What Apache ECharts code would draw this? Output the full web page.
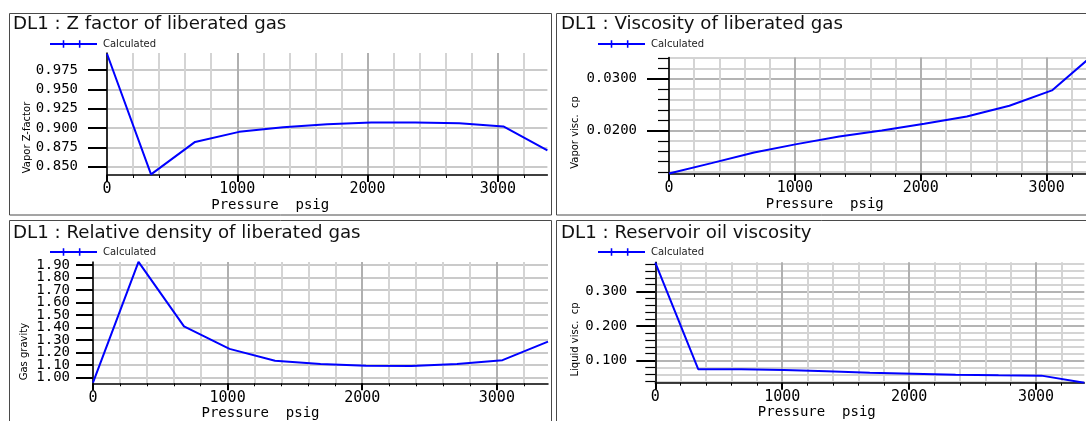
<!DOCTYPE html>
<html><head><meta charset="utf-8">
<script src="https://cdn.jsdelivr.net/npm/echarts@6/dist/echarts.min.js"></script>
<style>html,body{margin:0;padding:0;background:#fff}#c{width:1086px;height:421px}</style>
</head><body><div id="c"></div>
<script>
// ---------- data ----------
const pressure = [0, 338, 676, 1014, 1352, 1690, 2028, 2366, 2704, 3042, 3380];
const zFactor = [0.996, 0.840, 0.882, 0.895, 0.901, 0.905, 0.907, 0.907, 0.906, 0.902, 0.871];
const gasViscosity = [0.0117, 0.0137, 0.01575, 0.01737, 0.01884, 0.0200, 0.0213, 0.0227, 0.02478, 0.02774, 0.0348];
const gasGravity = [0.96, 1.925, 1.41, 1.23, 1.135, 1.11, 1.095, 1.093, 1.11, 1.14, 1.288];
const oilViscosity = [0.384, 0.075, 0.075, 0.073, 0.0693, 0.0652, 0.0623, 0.0594, 0.0577, 0.0565, 0.036];

const titles = ['DL1 : Z factor of liberated gas', 'DL1 : Viscosity of liberated gas',
                'DL1 : Relative density of liberated gas', 'DL1 : Reservoir oil viscosity'];
const yNames = ['Vapor Z-factor', 'Vapor visc.  cp', 'Gas gravity', 'Liquid visc.  cp'];
const xName = 'Pressure  psig';
const seriesName = 'Calculated';

const xMajorTicks = [0, 1000, 2000, 3000];
const xMinorTicks = [200, 400, 600, 800, 1200, 1400, 1600, 1800, 2200, 2400, 2600, 2800, 3200];
const zMajorTicks = [0.850, 0.875, 0.900, 0.925, 0.950, 0.975];
const gasViscMajorTicks = [0.0200, 0.0300];
const gasViscMinorTicks = [0.012, 0.014, 0.016, 0.018, 0.022, 0.024, 0.026, 0.028, 0.032, 0.034];
const gravityMajorTicks = [1.00, 1.10, 1.20, 1.30, 1.40, 1.50, 1.60, 1.70, 1.80, 1.90];
const oilViscMajorTicks = [0.100, 0.200, 0.300];
const oilViscMinorTicks = [0.04, 0.06, 0.08, 0.12, 0.14, 0.16, 0.18, 0.22, 0.24, 0.26, 0.28, 0.32, 0.34, 0.36, 0.38];

const values = [zFactor, gasViscosity, gasGravity, oilViscosity];
const yMajor = [zMajorTicks, gasViscMajorTicks, gravityMajorTicks, oilViscMajorTicks];
const yMinor = [null, gasViscMinorTicks, null, oilViscMinorTicks];

// ---------- layout ----------
const layout = [
  {box:[9.5,13.5,542,201.5], title:[13,15.5], legend:[50,39], grid:{left:107,top:53,width:440.4,height:122},
   xMax:3380, yRange:[0.8392,0.997], dec:3, margin:29, majorLen:19, minorLen:0, yGap:75, yShift:23.5, xShift:57, ySplit:'#cacaca', splitLabels:false},
  {box:[556.5,13.5,540,201.5], title:[561,15.5], legend:[598,39], grid:{left:669,top:57.5,width:425.5,height:116.5},
   xMax:3380, yRange:[0.0116,0.0341], dec:4, margin:32, majorLen:22, minorLen:11, yGap:89, yShift:16.7, xShift:57, ySplit:'#b4b4b4', splitLabels:false},
  {box:[9.5,220.5,542,210], title:[13,224], legend:[50,247], grid:{left:93,top:262,width:455,height:121.3},
   xMax:3380, yRange:[0.955,1.924], dec:2, margin:23, majorLen:17, minorLen:0, yGap:64, yShift:29, xShift:60, ySplit:'#cacaca', splitLabels:true},
  {box:[556.5,220.5,540,210], title:[561,224], legend:[598,247], grid:{left:655.3,top:262.3,width:429,height:120.4},
   xMax:3380, yRange:[0.036,0.385], dec:3, margin:28, majorLen:19, minorLen:10, yGap:75, yShift:17, xShift:53, ySplit:'#b4b4b4', splitLabels:false}
];

const BLUE = '#0000ff';
const legendIcon = 'path://M0,3.5H48V5.3H0Z M13,0.5H14.6V8.3H13Z M29.5,0.5H31.1V8.3H29.5Z';

const option = {
  animation: false,
  backgroundColor: '#ffffff',
  title: [], legend: [], grid: [], xAxis: [], yAxis: [], series: [],
  graphic: []
};

function labelAxis(i, L, ticks, withLine, withName) {
  const ax = {type:'value', gridIndex:i, min:L.yRange[0], max:L.yRange[1], position:'left',
    axisLine:{show:withLine, onZero:false, lineStyle:{color:'#000', width:1.5}},
    axisTick:{show:true, length:L.majorLen, lineStyle:{color:'#000', width:2}, customValues:ticks},
    axisLabel:{customValues:ticks, margin:L.margin, fontFamily:'DejaVu Sans Mono', fontSize:14,
      lineHeight:12, color:'#000', showMinLabel:true, showMaxLabel:true, hideOverlap:false,
      formatter: v => Number(v).toFixed(L.dec)},
    splitLine:{show:true, lineStyle:{color:L.ySplit, width:2}}};
  if (withName) {
    Object.assign(ax, {name:yNames[i], nameLocation:'middle', nameGap:L.yGap,
      nameTextStyle:{fontFamily:'DejaVu Sans', fontSize:10, color:'#000', padding:[0, 2*L.yShift, 0, 0]}});
  }
  return ax;
}

layout.forEach((L, i) => {
  option.graphic.push({type:'rect', silent:true, z:-1,
    shape:{x:L.box[0], y:L.box[1], width:L.box[2], height:L.box[3]},
    style:{fill:'none', stroke:'#4a4a4a', lineWidth:1}});
  option.title.push({text: titles[i], left: L.title[0], top: L.title[1], padding: 0,
    textStyle:{fontFamily:'DejaVu Sans', fontSize:18.2, fontWeight:'normal', color:'#111'}});
  option.legend.push({data:[seriesName], left:L.legend[0], top:L.legend[1], padding:0,
    icon: legendIcon, itemWidth:47, itemHeight:8, itemGap:5, selectedMode:false,
    textStyle:{fontFamily:'DejaVu Sans', fontSize:10, color:'#222', padding:[0,0,0,1]}});
  option.grid.push(Object.assign({outerBoundsMode:'none', containLabel:false}, L.grid));

  // major x
  option.xAxis.push({type:'value', gridIndex:i, min:0, max:L.xMax, position:'bottom',
    axisLine:{show:true, onZero:false, lineStyle:{color:'#000', width:1.5}},
    axisTick:{show:true, length:7, lineStyle:{color:'#000', width:2}, customValues:xMajorTicks},
    axisLabel:{customValues:xMajorTicks, margin:7, fontFamily:'DejaVu Sans Mono', fontSize:15, color:'#000',
      showMinLabel:true, showMaxLabel:true, hideOverlap:false, formatter: v => String(v)},
    splitLine:{show:true, lineStyle:{color:'#b0b0b0', width:2}},
    name:xName, nameLocation:'middle', nameGap:21,
    nameTextStyle:{fontFamily:'DejaVu Sans Mono', fontSize:14, color:'#000', padding:[0, 2*L.xShift, 0, 0]}});
  // minor x
  option.xAxis.push({type:'value', gridIndex:i, min:0, max:L.xMax, position:'bottom',
    axisLine:{show:false}, axisLabel:{show:false},
    axisTick:{show:true, length:3, lineStyle:{color:'#000', width:1}, customValues:xMinorTicks},
    splitLine:{show:true, lineStyle:{color:'#d4d4d4', width:2}}});

  const yMainIndex = option.yAxis.length;
  if (L.splitLabels) {
    // closely spaced labels: spread over two label axes so none is dropped
    const evenTicks = yMajor[i].filter((v, k) => k % 2 === 0);
    const oddTicks = yMajor[i].filter((v, k) => k % 2 === 1);
    option.yAxis.push(labelAxis(i, L, evenTicks, true, true));
    option.yAxis.push(labelAxis(i, L, oddTicks, false, false));
  } else {
    option.yAxis.push(labelAxis(i, L, yMajor[i], true, true));
  }
  if (yMinor[i]) {
    option.yAxis.push({type:'value', gridIndex:i, min:L.yRange[0], max:L.yRange[1], position:'left',
      axisLine:{show:false}, axisLabel:{show:false},
      axisTick:{show:true, length:L.minorLen, lineStyle:{color:'#000', width:1.2}, customValues:yMinor[i]},
      splitLine:{show:true, lineStyle:{color:'#d4d4d4', width:2}}});
  }

  option.series.push({type:'line', name:seriesName, xAxisIndex:2*i, yAxisIndex:yMainIndex,
    data: pressure.map((p, k) => [p, values[i][k]]),
    symbol:'none', showSymbol:false, clip:true, z:5,
    lineStyle:{color:BLUE, width:2}, itemStyle:{color:BLUE}});
});

const chart = echarts.init(document.getElementById('c'), null, {renderer:'canvas'});
chart.setOption(option);
</script>
</body></html>
